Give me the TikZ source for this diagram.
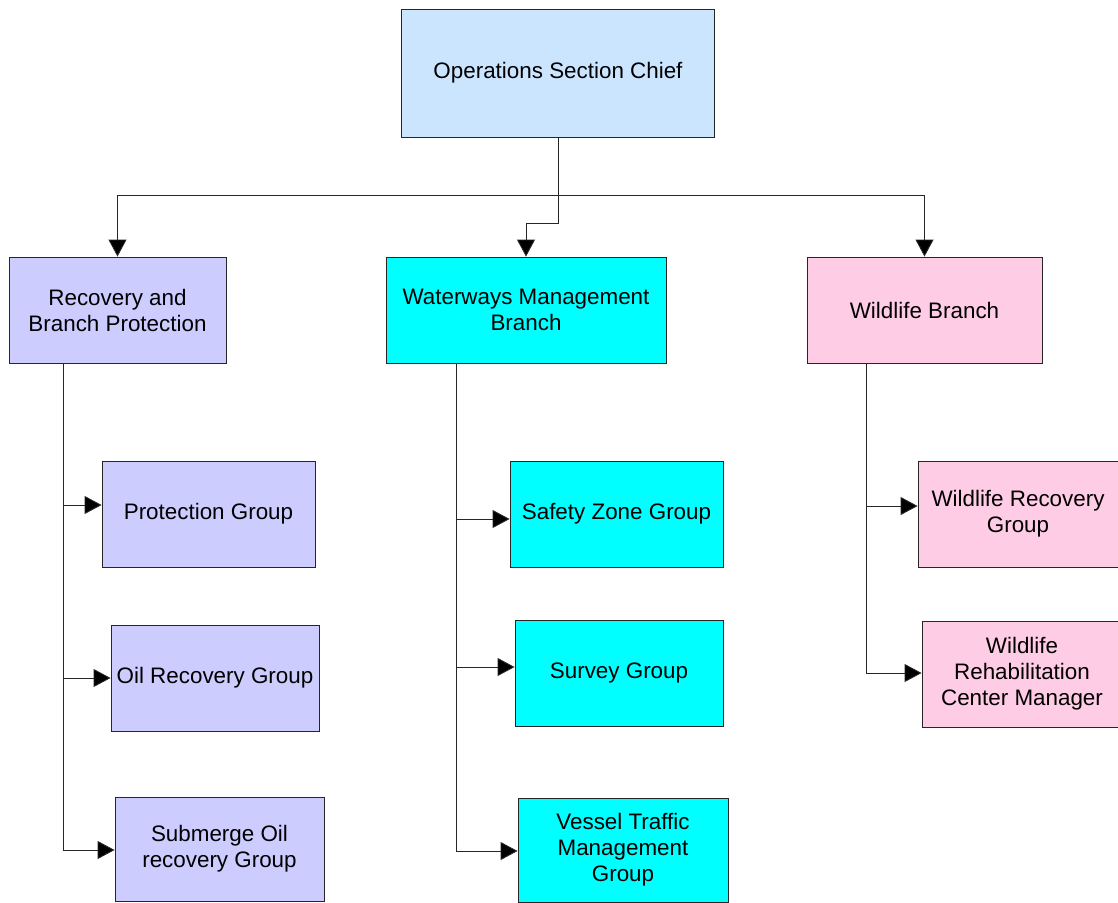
\documentclass[tikz,border=0pt]{standalone}
\usepackage{fontspec}
\setmainfont{Liberation Sans}
\usetikzlibrary{arrows.meta}
\definecolor{chiefblue}{HTML}{CCE5FF}
\definecolor{lavender}{HTML}{CCCCFF}
\definecolor{aqua}{HTML}{00FFFF}
\definecolor{rose}{HTML}{FFCCE5}
\tikzset{
  orgbox/.style={draw=black!85, line width=0.9pt, rectangle, align=center,
    inner sep=2pt, font=\fontsize{22.4}{26}\selectfont},
  link/.style={draw=black!85, line width=0.9pt,
    -{Triangle[length=17pt,width=18pt,fill=black]}},
  trunk/.style={draw=black!85, line width=0.9pt}
}
\begin{document}
\begin{tikzpicture}[x=1pt,y=-1pt]
\useasboundingbox (0,0) rectangle (1118,902);
\clip (0,0) rectangle (1118,902);
\fill[white] (0,0) rectangle (1118,902);

% top level
\node[orgbox, fill=chiefblue, minimum width=313, minimum height=128] (chief) at (558,73) {Operations Section Chief};

% branches
\node[orgbox, fill=lavender, minimum width=217, minimum height=106] (rec) at (117.5,310) {Recovery and\\Branch Protection};
\node[orgbox, fill=aqua, minimum width=280, minimum height=106] (water) at (526,310) {Waterways Management\\Branch};
\node[orgbox, fill=rose, minimum width=235, minimum height=106] (wild) at (924.5,310) {Wildlife Branch};

% groups under recovery
\node[orgbox, fill=lavender, minimum width=213, minimum height=106] (prot) at (208.5,514) {Protection Group};
\node[orgbox, fill=lavender, minimum width=208, minimum height=106] (oil) at (215,678) {Oil Recovery Group};
\node[orgbox, fill=lavender, minimum width=209, minimum height=104] (sub) at (219.5,849) {Submerge Oil\\recovery Group};

% groups under waterways
\node[orgbox, fill=aqua, minimum width=213, minimum height=106] (safe) at (616.5,514) {Safety Zone Group};
\node[orgbox, fill=aqua, minimum width=208, minimum height=106] (survey) at (619,673) {Survey Group};
\node[orgbox, fill=aqua, minimum width=210, minimum height=104] (vessel) at (623,850) {Vessel Traffic\\Management\\Group};

% groups under wildlife
\node[orgbox, fill=rose, minimum width=200, minimum height=106] (wrec) at (1018,514) {Wildlife Recovery\\Group};
\node[orgbox, fill=rose, minimum width=200, minimum height=106] (wreh) at (1022,674) {Wildlife\\Rehabilitation\\Center Manager};

% chief to branches
\coordinate (bus) at (chief.south |- 0,195);
\coordinate (jog) at (chief.south |- 0,223);
\draw[link] (chief.south) -- (bus) -| (rec.north);
\draw[link] (bus) -| (wild.north);
\draw[link] (bus) -- (jog) -| (water.north);

% recovery trunk
\draw[trunk] (63,363) -- (63,850);
\draw[link] (63,505) -- (prot.west |- 0,505);
\draw[link] (63,678) -- (oil.west |- 0,678);
\draw[link] (63,850) -- (sub.west |- 0,850);

% waterways trunk
\draw[trunk] (456,363) -- (456,851);
\draw[link] (456,519) -- (safe.west |- 0,519);
\draw[link] (456,667) -- (survey.west |- 0,667);
\draw[link] (456,851) -- (vessel.west |- 0,851);

% wildlife trunk
\draw[trunk] (866,363) -- (866,673);
\draw[link] (866,506) -- (wrec.west |- 0,506);
\draw[link] (866,673) -- (wreh.west |- 0,673);
\end{tikzpicture}
\end{document}
